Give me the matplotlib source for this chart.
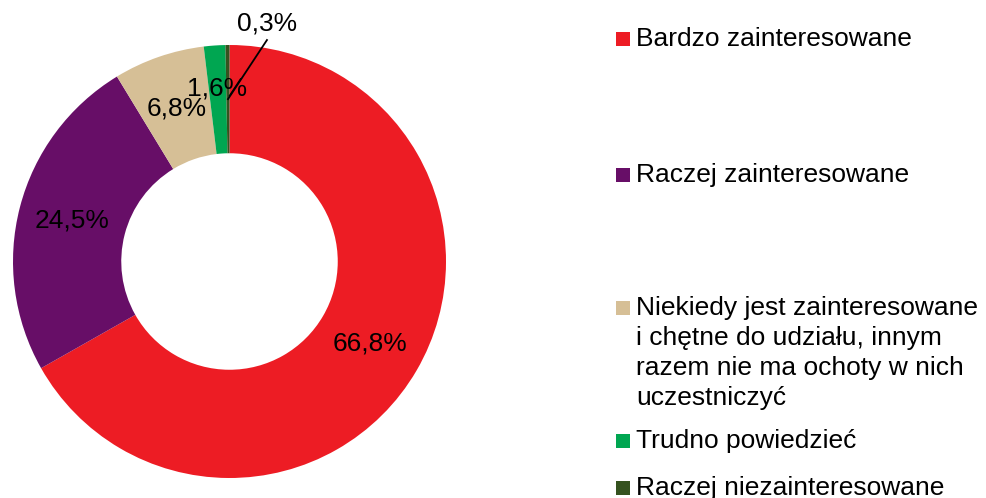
import numpy as np
import matplotlib
matplotlib.use("Agg")
import matplotlib.pyplot as plt
from matplotlib.patches import Rectangle

plt.rcParams['font.family'] = ['Liberation Sans', 'DejaVu Sans']

# data
categories = [
    "Bardzo zainteresowane",
    "Raczej zainteresowane",
    "Niekiedy jest zainteresowane\ni chętne do udziału, innym\nrazem nie ma ochoty w nich\nuczestniczyć",
    "Trudno powiedzieć",
    "Raczej niezainteresowane",
]
shares = [66.8, 24.5, 6.8, 1.6, 0.3]
pct_labels = ["66,8%", "24,5%", "6,8%", "1,6%", "0,3%"]
colors = ["#ED1C24", "#670E67", "#D6BF96", "#00A651", "#35521F"]

W, H = 986, 498
fig = plt.figure(figsize=(W / 100, H / 100), dpi=100)

# donut centre (229.5, 261.5) px, outer radius 216.5 px
cx, cy, R = 229.5, 261.5, 216.5
ax = fig.add_axes([(cx - R) / W, (H - cy - R) / H, 2 * R / W, 2 * R / H])
wedges, _ = ax.pie(shares, colors=colors, startangle=90, counterclock=False,
                   radius=1, wedgeprops=dict(width=0.5, linewidth=0))
ax.set_xlim(-1, 1)
ax.set_ylim(-1, 1)
ax.axis('off')

fs = 19
for i, (w, lab) in enumerate(zip(wedges, pct_labels)):
    ang = np.deg2rad((w.theta1 + w.theta2) / 2)
    if i == 4:
        # small slice: label outside with leader line
        x0, y0 = 0.75 * np.cos(ang), 0.75 * np.sin(ang)
        ax.plot([x0, 0.173], [y0, 1.023], color='black', lw=1.3, clip_on=False)
        ax.text(0.173, 1.10, lab, ha='center', va='center', fontsize=fs)
        continue
    r = 0.8 if i == 3 else 0.75
    ax.text(r * np.cos(ang), r * np.sin(ang), lab, ha='center', va='center', fontsize=fs)

# legend, laid out like the original (baseline of first line, px from top)
leg_base = [46, 182, 315, 448, 495]
line_step = 30
for cat, col, yb in zip(categories, colors, leg_base):
    fig.add_artist(Rectangle((616 / W, (H - yb) / H), 14 / W, 14 / H,
                             transform=fig.transFigure, color=col, lw=0))
    for k, line in enumerate(cat.split("\n")):
        fig.text(636 / W, (H - yb - k * line_step) / H, line, ha='left',
                 va='baseline', fontsize=fs)

fig.savefig("out.png", dpi=100)
